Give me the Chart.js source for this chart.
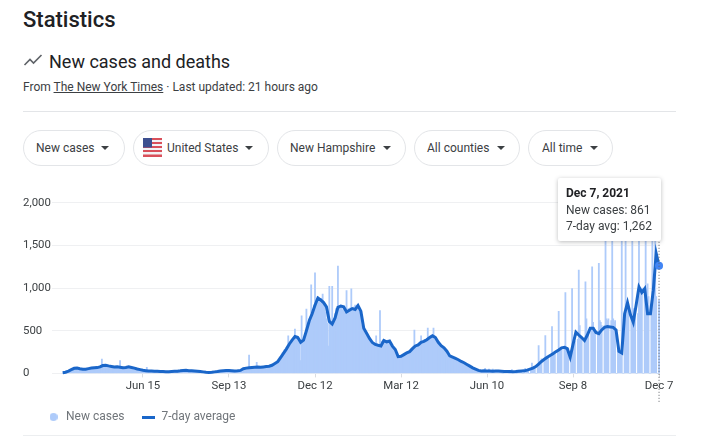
<!DOCTYPE html>
<html><head><meta charset="utf-8">
<script src="https://cdn.jsdelivr.net/npm/chart.js@4"></script>
<style>
html,body{margin:0;padding:0;background:#fff;width:707px;height:445px;overflow:hidden;font-family:Roboto,sans-serif;color:#202124}
.a{position:absolute;white-space:nowrap}
#h1{left:23px;top:7px;font-size:22px;font-weight:500;line-height:26px}
#h2{left:49px;top:50px;font-size:18px;line-height:23px;color:#202124}
#sub{left:23px;top:79px;font-size:12px;line-height:16px;color:#3c4043}
#sub u{text-underline-offset:1px}
.hr{left:23px;width:653px;height:1px;background:#e3e5e8}
.chip{top:130px;height:34px;border:1px solid #e3e5e8;border-radius:18px;box-sizing:content-box;font-size:12px;line-height:34px;color:#3c4043}
.chip span{position:absolute;top:0}
.chip i{position:absolute;top:15px;width:0;height:0;border-left:4.5px solid transparent;border-right:4.5px solid transparent;border-top:4.5px solid #3c4043}
#tip{left:558px;top:178px;width:103px;height:63px;background:#fff;box-shadow:0 1px 4px rgba(60,64,67,.35);border-radius:2px;font-size:12px;line-height:16.5px;color:#3c4043;z-index:3}
#tip div{position:absolute;left:8px;white-space:nowrap}
#c{position:absolute;left:0;top:170px;width:707px;height:275px}
</style></head><body>
<div class="a" id="h1">Statistics</div>
<svg class="a" style="left:23px;top:52px" width="20" height="16" viewBox="0 0 20 16"><path d="M1.5 13 L7 7.5 L10.5 11 L18.5 3" fill="none" stroke="#5f6368" stroke-width="1.6"/></svg>
<div class="a" id="h2">New cases and deaths</div>
<div class="a" id="sub">From <u>The New York Times</u> · Last updated: 21 hours ago</div>
<div class="a hr" style="top:111px"></div>
<div class="a chip" style="left:23px;width:100px"><span style="left:12px">New cases</span><i style="left:77px"></i></div>
<div class="a chip" style="left:133px;width:134px">
<svg class="a" style="left:9px;top:7px" width="19" height="19" viewBox="0 0 19 19"><rect width="19" height="19" fill="#f3f3f5"/><g fill="#d9505a"><rect y="0" width="19" height="2"/><rect y="4" width="19" height="2"/><rect y="8" width="19" height="2"/><rect y="12" width="19" height="2"/><rect y="16.5" width="19" height="2.5"/></g><rect width="9" height="9.5" fill="#3d4f8f"/></svg>
<span style="left:33px">United States</span><i style="left:111px"></i></div>
<div class="a chip" style="left:277px;width:127px"><span style="left:12px">New Hampshire</span><i style="left:105px"></i></div>
<div class="a chip" style="left:414px;width:104px"><span style="left:12px">All counties</span><i style="left:82px"></i></div>
<div class="a chip" style="left:528px;width:83px"><span style="left:13px">All time</span><i style="left:61px"></i></div>
<div class="a" id="tip"><div style="top:7px;font-weight:700;color:#202124">Dec 7, 2021</div><div style="top:24px">New cases: 861</div><div style="top:40px">7-day avg: 1,262</div></div>
<div class="a hr" style="top:435px;background:#eceef0"></div>
<canvas id="c" width="707" height="275"></canvas>
<script>
const yTicks=[0,500,1000,1500,2000];
const xTickDays=[84,174,264,354,444,534,624];
const xTickLabels=["Jun 15","Sep 13","Dec 12","Mar 12","Jun 10","Sep 8","Dec 7"];
const seriesNames=["New cases","7-day average"];
// daily new cases, one row per week, first row starts Mar 23 2020
const newCases=[
0,10,12,14,22,26,32,
34,45,42,50,58,65,60,
68,62,58,60,52,50,54,
48,44,52,50,48,55,60,
58,62,60,66,64,68,62,
70,66,72,78,74,88,169,
100,96,92,98,90,88,84,
86,80,82,76,78,74,80,
82,78,74,70,150,72,66,
64,68,72,70,76,80,78,
72,68,66,64,60,58,56,
54,50,48,46,44,40,42,
38,36,34,36,70,30,28,
30,28,26,28,26,24,28,
24,26,22,24,20,22,24,
22,20,22,18,20,18,20,
22,20,24,22,26,24,26,
28,26,30,28,32,34,36,
38,34,36,38,34,32,30,
32,30,28,30,26,28,26,
26,24,22,24,20,20,18,
18,16,14,14,12,12,14,
14,16,18,20,22,24,22,
26,28,30,32,30,34,32,
34,36,32,34,36,32,34,
32,30,28,30,28,26,30,
28,32,30,34,36,38,42,
50,56,60,62,64,68,216,
66,70,72,68,74,70,76,
130,74,72,70,76,72,78,
74,78,80,82,78,84,88,
90,92,96,100,110,118,125,
135,150,170,190,200,215,240,
250,275,260,300,320,440,330,
360,340,390,400,420,519,430,
440,410,400,395,150,676,360,
380,420,470,755,540,600,640,
660,1037,750,720,800,1179,860,
880,900,840,860,820,880,931,
800,780,720,640,590,320,1022,
620,600,1022,590,640,700,760,
760,1258,790,780,800,770,740,
760,720,700,970,730,760,740,
770,990,760,750,780,800,790,
800,760,740,720,676,560,520,
500,480,470,440,420,410,390,
380,370,350,360,340,330,440,
320,330,310,735,330,380,360,
390,370,360,380,390,370,350,
340,320,300,290,280,260,240,
200,190,200,210,190,210,220,
215,230,240,235,250,260,250,
270,290,300,320,507,330,320,
340,350,360,370,440,370,380,
390,400,380,410,530,420,430,
440,450,430,530,440,420,400,
380,350,340,330,320,310,300,
300,280,260,250,230,210,200,
195,190,185,180,178,172,170,
160,155,150,145,140,135,130,
125,115,105,100,90,85,80,
75,65,60,55,50,45,40,
35,32,30,28,26,28,30,
30,60,28,24,30,50,28,
26,24,50,22,26,28,24,
28,26,30,24,22,0,0,
22,24,20,22,24,0,0,
20,45,18,20,24,0,0,
20,40,24,22,26,0,0,
28,60,30,34,40,0,0,
45,120,55,70,80,0,0,
90,326,130,150,170,0,0,
150,444,170,190,200,0,0,
210,550,220,240,250,0,0,
260,727,280,290,300,0,0,
300,947,310,280,290,0,0,
200,994,400,420,380,0,0,
400,1210,560,440,420,0,0,
400,1073,640,460,440,0,0,
520,1250,600,540,500,0,0,
470,1289,620,600,560,0,0,
560,1750,640,620,640,0,0,
620,1800,640,600,620,0,0,
280,260,240,220,1700,0,0,
500,1900,800,820,760,0,0,
700,1850,760,720,700,0,0,
700,1950,900,950,1000,0,0,
950,2000,1000,1050,900,0,0,
800,1900,1000,1100,1800,900,0,
0,861];
// 7-day average read every third day
const avgEvery=3;
const sevenDayAvg=[
8,14,28,44,60,62,54,48,50,56,
62,65,68,76,92,96,88,82,76,78,
72,66,70,78,70,62,52,44,36,32,
28,28,26,25,22,22,20,20,22,24,
26,30,35,36,32,30,28,26,22,18,
14,12,14,18,22,28,32,34,33,32,
28,30,35,55,62,66,70,72,74,72,
76,80,84,95,115,137,185,235,285,342,
390,432,420,365,390,500,617,700,800,884,
860,830,780,610,578,650,774,790,780,720,
740,760,750,795,730,530,470,410,362,340,
330,322,385,370,380,320,280,196,200,220,
240,255,290,322,335,365,375,395,420,440,
420,365,325,300,260,205,190,175,160,140,
125,105,85,65,50,35,28,30,28,28,
25,28,28,25,22,22,22,20,22,25,
28,30,38,50,62,80,110,140,165,190,
210,230,255,275,300,305,290,190,340,483,
450,420,385,450,530,530,480,465,510,540,
550,545,540,510,260,240,700,830,690,600,
800,1014,950,994,700,700,975,1407,1262];

const barPts=newCases.map((v,i)=>({x:i,y:v}));
const avgPts=sevenDayAvg.map((v,i)=>({x:i*avgEvery,y:v}));
const last=avgPts.length-1;
const LEGEND_TOP=223;
function swatch(w,h,color,round){const s=document.createElement('canvas');s.width=w;s.height=h;const g=s.getContext('2d');g.fillStyle=color;if(round){g.beginPath();g.arc(w/2,h/2,w/2,0,Math.PI*2);g.fill();}else{g.fillRect(0,0,w,h);}return s;}
const markerLine={id:'markerLine',
 afterLayout(ch){ch.legend.left=29;ch.legend.top=LEGEND_TOP;},
 afterDatasetsDraw(ch){const x=ch.scales.x.getPixelForValue(xTickDays[xTickDays.length-1]);const c=ch.ctx;c.save();c.strokeStyle='#5f6368';c.lineWidth=1;c.setLineDash([1,2]);c.beginPath();c.moveTo(x,ch.chartArea.top);c.lineTo(x,ch.chartArea.bottom+30);c.stroke();c.restore();}};
new Chart(document.getElementById('c'),{
 data:{datasets:[
  {type:'line',label:seriesNames[1],data:avgPts,order:0,borderColor:'#1a66c9',backgroundColor:'#1a66c9',borderWidth:3,tension:0,clip:false,
   pointRadius:avgPts.map((p,i)=>i===last?4:0),pointBackgroundColor:'#4285f4',pointBorderWidth:0,pointStyle:'circle'},
  {type:'bar',label:seriesNames[0],data:barPts,order:1,backgroundColor:'#aecbfa',borderWidth:0,barThickness:1.15}
 ]},
 options:{responsive:false,animation:false,
  layout:{padding:{left:23,right:47,top:32.8,bottom:4.3}},
  plugins:{tooltip:{enabled:false},
   legend:{position:'bottom',align:'start',labels:{
    usePointStyle:true,pointStyleWidth:13,boxHeight:5,padding:18,color:'#70757a',font:{family:'Roboto',size:12},
    generateLabels(ch){return [
     {text:seriesNames[0],pointStyle:swatch(8,8,'#aecbfa',true),fontColor:'#70757a',datasetIndex:1,lineWidth:0},
     {text:seriesNames[1],pointStyle:swatch(13,3,'#1a66c9',false),fontColor:'#70757a',datasetIndex:0,lineWidth:0}];}
   }}},
  scales:{
   x:{type:'linear',min:-11.2,max:625,offset:false,
    afterFit(s){s.height=27.3;},
    afterBuildTicks(s){s.ticks=xTickDays.map(v=>({value:v}));},
    grid:{offset:false,drawOnChartArea:false,color:'#dadce0',tickLength:4},border:{display:false},
    ticks:{autoSkip:false,maxRotation:0,padding:2,color:'#3c4043',font:{family:'Roboto',size:11.4},
     callback:v=>xTickLabels[xTickDays.indexOf(v)]}},
   y:{min:0,max:2000,
    afterFit(s){s.width=29;},
    afterBuildTicks(s){s.ticks=yTicks.map(v=>({value:v}));},
    grid:{color:'#eff0f2',drawTicks:false},border:{display:false},
    ticks:{padding:0,crossAlign:'far',color:'#3c4043',font:{family:'Roboto',size:11.4},
     callback:v=>v.toLocaleString('en-US')}}
  }},
 plugins:[markerLine]
});
</script>
</body></html>
